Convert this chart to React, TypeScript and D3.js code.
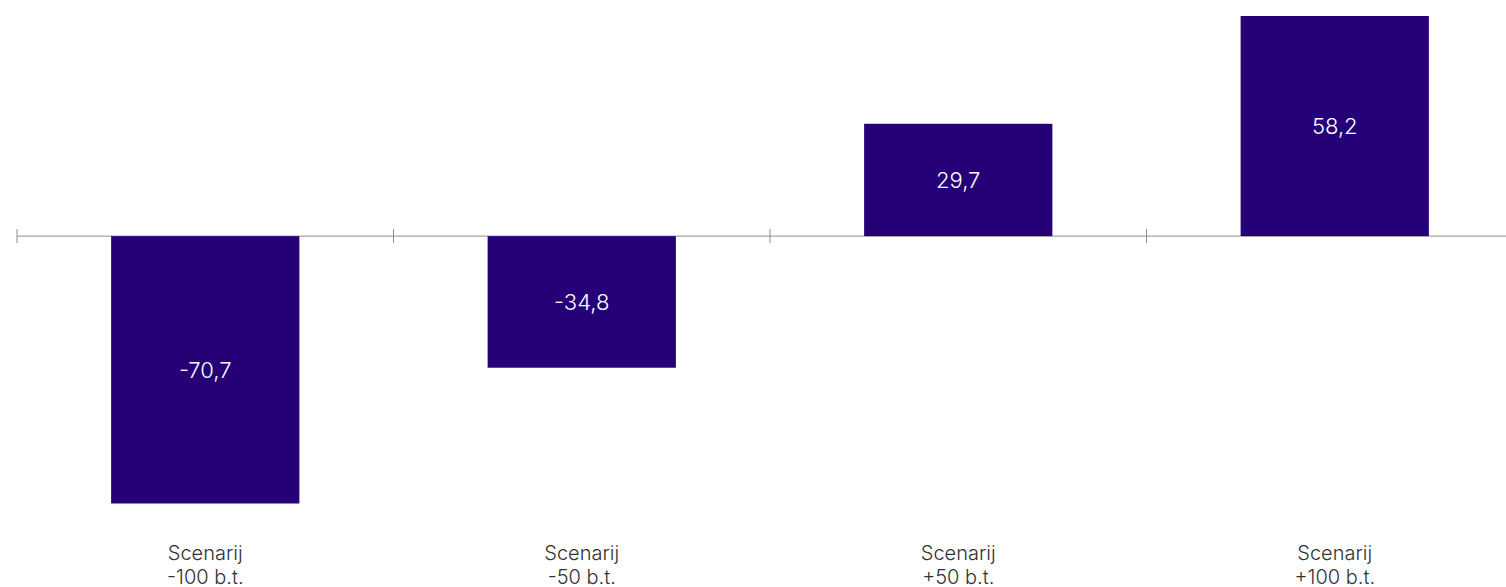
import { useEffect, useRef } from 'react';
import * as d3 from 'd3';

const categories = ['Scenarij\n-100 b.t.', 'Scenarij\n-50 b.t.', 'Scenarij\n+50 b.t.', 'Scenarij\n+100 b.t.'];
const values = [-70.7, -34.8, 29.7, 58.2];

const WIDTH = 1506;
const HEIGHT = 587;
const BAR_COLOR = '#250077';
const FONT = 'Inter, "Noto Sans", sans-serif';

const fmt = (v: number) => v.toFixed(1).replace('.', ',');

export default function App() {
  const ref = useRef<SVGSVGElement>(null);

  useEffect(() => {
    if (!ref.current) return;
    const svg = d3.select(ref.current);
    svg.selectAll('*').remove();

    const x = d3.scaleBand<string>()
      .domain(categories)
      .range([17, 1523])
      .paddingInner(0.5)
      .paddingOuter(0.25);

    // zero at ~236px, 3.775px per unit
    const y = d3.scaleLinear()
      .domain([-70.7, 58.2])
      .range([503.5, 16]);

    const zero = y(0);
    const step = x.step();

    // axis line + ticks
    svg.append('line')
      .attr('x1', 17).attr('x2', WIDTH)
      .attr('y1', zero).attr('y2', zero)
      .attr('stroke', '#8f8f8f').attr('stroke-width', 1);

    svg.selectAll('line.tick')
      .data(d3.range(categories.length + 1))
      .join('line')
      .attr('class', 'tick')
      .attr('x1', i => 17 + i * step).attr('x2', i => 17 + i * step)
      .attr('y1', zero - 7).attr('y2', zero + 7)
      .attr('stroke', '#8f8f8f').attr('stroke-width', 1);

    const g = svg.selectAll('g.bar')
      .data(categories.map((c, i) => ({ c, v: values[i] })))
      .join('g')
      .attr('class', 'bar');

    g.append('rect')
      .attr('x', d => x(d.c)!)
      .attr('width', x.bandwidth())
      .attr('y', d => Math.min(y(d.v), zero))
      .attr('height', d => Math.abs(y(d.v) - zero))
      .attr('fill', BAR_COLOR);

    g.append('text')
      .attr('x', d => x(d.c)! + x.bandwidth() / 2)
      .attr('y', d => (y(d.v) + zero) / 2)
      .attr('dy', '0.35em')
      .attr('text-anchor', 'middle')
      .attr('fill', 'white')
      .attr('font-family', FONT)
      .attr('font-weight', 300)
      .attr('font-size', '22px')
      .text(d => fmt(d.v));

    const lbl = g.append('text')
      .attr('text-anchor', 'middle')
      .attr('fill', '#333')
      .attr('font-family', FONT)
      .attr('font-weight', 300)
      .attr('font-size', '20px');

    lbl.selectAll('tspan')
      .data(d => d.c.split('\n').map(t => ({ t, cx: x(d.c)! + x.bandwidth() / 2 })))
      .join('tspan')
      .attr('x', d => d.cx)
      .attr('y', (_, i) => 560 + i * 24)
      .text(d => d.t);
  }, []);

  return (
    <div style={{ position: 'absolute', left: 0, top: 0, width: WIDTH, height: HEIGHT, background: 'white' }}>
      <svg ref={ref} width={WIDTH} height={HEIGHT} style={{ display: 'block' }} />
    </div>
  );
}
